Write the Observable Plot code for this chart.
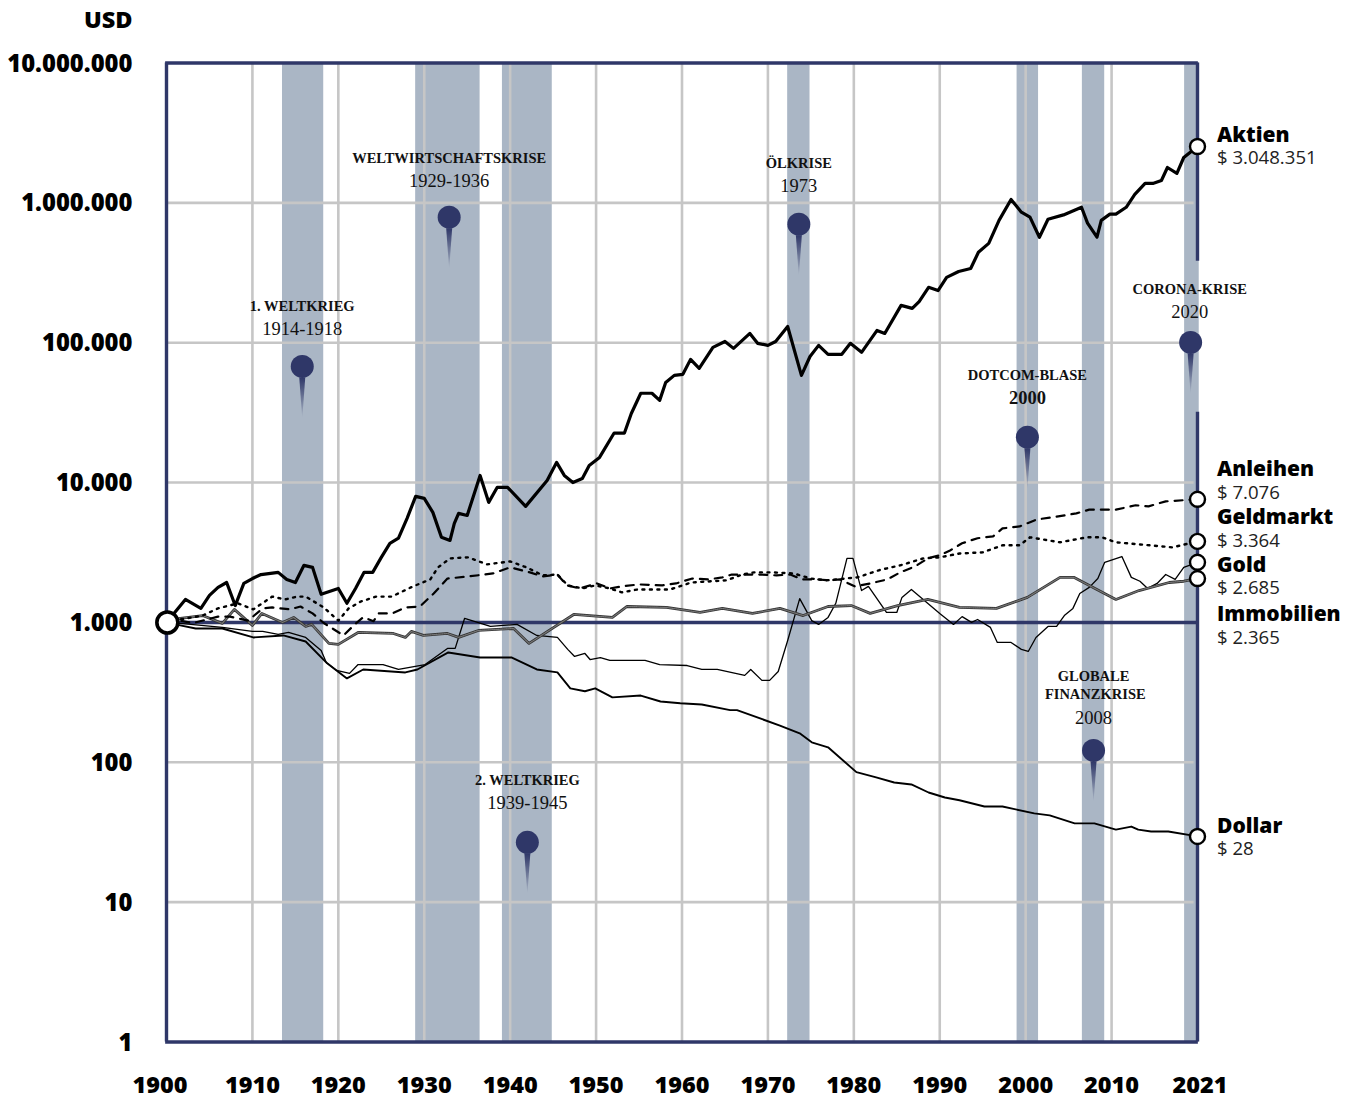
<!DOCTYPE html>
<html lang="de">
<head>
<meta charset="utf-8">
<title>Wertentwicklung 1900-2021</title>
<script src="https://cdn.jsdelivr.net/npm/d3@7"></script>
<script src="https://cdn.jsdelivr.net/npm/@observablehq/plot@0.6"></script>
<style>
  html, body { margin: 0; padding: 0; background: #fff; }
  svg { display: block; }
</style>
</head>
<body>
<div id="chart"></div>
<script>
const aktien = [[1900,1000],[1902.2,1460],[1904,1260],[1905,1560],[1906,1780],[1907,1930],[1908,1320],[1909,1900],[1910,2060],[1911,2200],[1913,2280],[1914,2030],[1915,1930],[1916,2560],[1917,2475],[1918,1590],[1920,1750],[1921,1370],[1922,1750],[1923,2280],[1924,2280],[1925,2920],[1926,3680],[1927,4000],[1928,5550],[1929,7970],[1930,7710],[1931,6120],[1932,4060],[1933,3860],[1933.5,5100],[1934,6020],[1935,5820],[1936.5,11250],[1937.5,7220],[1938.5,9250],[1939.7,9250],[1941.8,6760],[1944.3,10360],[1945.4,13940],[1946.3,11250],[1947.3,10000],[1948.4,10700],[1949.2,13250],[1950.4,15130],[1952.1,22600],[1953.3,22600],[1954.1,31200],[1955.2,43500],[1956.5,43500],[1957.4,38700],[1958.1,52000],[1959.1,58400],[1960.1,59400],[1961,76000],[1962,65500],[1963.6,92700],[1965,102100],[1966,91100],[1967.9,116500],[1968.8,99000],[1970,95700],[1970.9,102100],[1972.3,130700],[1973.9,58400],[1974.9,79700],[1975.9,95700],[1977,82600],[1978.6,82600],[1979.6,99000],[1980.9,85400],[1982.7,122500],[1983.6,116500],[1985.5,185000],[1986.8,176000],[1987.6,197000],[1988.7,249000],[1989.8,236000],[1990.8,293000],[1992.2,323000],[1993.6,339000],[1994.5,443000],[1995.7,513000],[1996.9,750000],[1998.3,1058000],[1999.5,857000],[2000.5,790000],[2001.6,568000],[2002.6,763000],[2004.4,820000],[2006.5,930000],[2007.2,717000],[2008.3,568000],[2008.8,750000],[2009.8,830000],[2010.5,830000],[2011.7,930000],[2012.7,1150000],[2013.9,1377000],[2014.8,1377000],[2015.8,1446000],[2016.5,1790000],[2017.6,1624000],[2018.4,2110000],[2020,2530000]];

const anleihen = [[1900,1000],[1901.6,1030],[1903.1,990],[1906,1100],[1907.4,1100],[1909.5,1030],[1911.2,1260],[1912.3,1280],[1914.4,1240],[1915.6,1300],[1917,1160],[1918.3,990],[1920.6,807],[1922,980],[1922.9,1090],[1924.1,1020],[1924.7,1160],[1926.3,1160],[1927.8,1280],[1929.5,1300],[1931.1,1610],[1932.7,2060],[1935.1,2130],[1938,2240],[1940,2475],[1942.3,2280],[1943.8,2130],[1945.5,2200],[1946.6,1840],[1948.1,1750],[1950.1,1900],[1951.6,1750],[1953,1810],[1955,1870],[1957.7,1840],[1959.3,1900],[1961.2,2060],[1963.1,2030],[1964.7,2100],[1965.8,2200],[1969.1,2200],[1971,2170],[1972.6,2200],[1974,2030],[1975.7,2030],[1977.2,2000],[1978.4,2030],[1980.1,1810],[1981.9,1900],[1983.9,2030],[1985.4,2280],[1987.1,2510],[1988.6,2870],[1990,3020],[1991.2,3270],[1992.6,3680],[1994.4,4000],[1996.2,4120],[1997.3,4700],[1999.3,4860],[2001.3,5450],[2003.1,5640],[2005.9,6020],[2007.4,6400],[2010.5,6400],[2012.8,6880],[2014.3,6760],[2016.3,7340],[2020,7590]];

const geldmarkt = [[1900,1000],[1901.6,1050],[1904.2,1120],[1906,1260],[1908.3,1370],[1910.1,1240],[1912.3,1530],[1913.8,1460],[1915.2,1530],[1916.2,1530],[1918.3,1280],[1920,1030],[1921.2,1260],[1922.6,1410],[1924.4,1530],[1926.2,1530],[1928.7,1810],[1930.7,2030],[1931.6,2475],[1933,2870],[1935.1,2920],[1937.3,2600],[1940,2730],[1941.9,2475],[1943.8,2170],[1945.5,2200],[1946.7,1840],[1948.4,1750],[1949.9,1840],[1951.6,1750],[1953,1640],[1954.8,1720],[1958.6,1720],[1961.1,1930],[1965.2,2000],[1967,2200],[1968.4,2280],[1970.5,2280],[1973,2240],[1975,2060],[1976.8,2000],[1980.4,2100],[1983,2370],[1985.4,2560],[1988.1,2870],[1990,2920],[1992.3,3110],[1995,3170],[1997.3,3560],[1999.3,3560],[2000.5,4060],[2004,3740],[2007.1,4060],[2008.9,4060],[2010.5,3740],[2017.1,3440],[2020,3800]];

const gold = [[1900,1000],[1901.6,984],[1906.5,921],[1910,862],[1911.2,862],[1913,820],[1914.2,848],[1916.2,781],[1918,630],[1918.6,517],[1919.8,454],[1921.3,432],[1922.3,500],[1925.2,500],[1927,461],[1930.1,500],[1932.7,652],[1933.6,652],[1934.7,1070],[1937.7,936],[1940.8,968],[1943.1,807],[1945.5,781],[1946.7,642],[1947.5,571],[1948.7,600],[1949.3,543],[1950.5,561],[1951.6,535],[1955.7,535],[1957.4,500],[1960.6,492],[1962.3,461],[1964.1,461],[1967.3,418],[1968,461],[1969.3,385],[1970.2,385],[1971.2,446],[1972.3,743],[1973.7,1480],[1975.1,1030],[1975.9,968],[1977,1086],[1977.9,1370],[1979.2,2870],[1979.9,2870],[1980.9,1690],[1981.7,1810],[1983.8,1179],[1985,1179],[1985.6,1510],[1986.7,1720],[1990,1160],[1991.6,968],[1992.6,1100],[1993.7,1000],[1994.4,1050],[1995.9,921],[1996.7,719],[1998.3,719],[1999.5,642],[2000.3,620],[2001.2,781],[2002.6,936],[2003.6,936],[2004.5,1120],[2005.5,1260],[2006.3,1610],[2007.4,1780],[2008.4,2060],[2009.2,2690],[2011.2,2960],[2012.3,2100],[2013.3,1970],[2014.2,1750],[2015.3,1900],[2016.3,2200],[2017.4,2030],[2018.4,2475],[2020,2690]];

const immobilien = [[1900,1000],[1901.6,1068],[1904.2,1120],[1906.5,984],[1907.9,1240],[1910,952],[1911.1,1160],[1913.5,1000],[1914.8,1086],[1916.2,936],[1916.9,968],[1918.9,708],[1920,697],[1922.3,848],[1926.4,834],[1927.8,781],[1928.5,862],[1929.9,807],[1932.7,834],[1934,781],[1936.3,876],[1940.4,905],[1942.2,708],[1947.4,1140],[1951.9,1086],[1953.6,1300],[1958.2,1280],[1962.1,1179],[1964.7,1260],[1968.2,1160],[1971.4,1260],[1974.1,1120],[1977,1300],[1979.7,1320],[1981.9,1160],[1985.1,1320],[1988.6,1460],[1990,1390],[1992.3,1280],[1996.6,1260],[2000.2,1510],[2004,2100],[2005.6,2100],[2010.5,1460],[2013.2,1690],[2016.7,1930],[2018.4,1970],[2020,2060]];

const dollar = [[1900,1000],[1901.6,952],[1903.4,905],[1906.5,905],[1910.1,781],[1913.6,807],[1916.2,731],[1918.7,510],[1921,398],[1922.9,461],[1927.8,439],[1929.2,461],[1932.8,610],[1936.5,561],[1940.2,561],[1943.1,461],[1945.5,439],[1947,338],[1948.7,322],[1949.9,338],[1951.9,291],[1955.2,300],[1957.5,272],[1959.8,264],[1962.3,259],[1965.6,236],[1966.4,236],[1971.4,183],[1973.7,161],[1975.1,139],[1977,128],[1980.3,85],[1982.6,78],[1984.7,71.7],[1986.7,69.4],[1988.7,60.8],[1990.6,56],[1992.3,53.5],[1995.2,48.3],[1997.3,48.3],[2001,43.1],[2002.8,41.7],[2005.7,36.6],[2008,36.6],[2010.5,33],[2012.3,34.7],[2013.1,33],[2014.6,32],[2016.6,32],[2020,29.5]];

const xGridYears = [1910,1920,1930,1940,1950,1960,1970,1980,1990,2000,2010];
const xTickYears = [1900,1910,1920,1930,1940,1950,1960,1970,1980,1990,2000,2010,2020];
const xTickLabels = ["1900","1910","1920","1930","1940","1950","1960","1970","1980","1990","2000","2010","2021"];
const yTicks = [1,10,100,1000,10000,100000,1000000,10000000];
const yGrid = [10,100,10000,100000,1000000];

const bandStart = [1913.5,1929,1939.1,1972.3,1999,2006.6,2018.5];
const bandEnd   = [1918.3,1936.5,1944.9,1974.9,2001.5,2009.2,2020.2];

const pinYear  = [1915.8,1932.9,1942,1973.6,2000.2,2007.9,2019.2];
const pinValue = [67700,790000,26.8,704000,21100,121.5,100500];

const crisisTitles = [
  ["1. WELTKRIEG",1915.8,182000],
  ["WELTWIRTSCHAFTSKRISE",1932.9,2070000],
  ["2. WELTKRIEG",1942,74.2],
  ["ÖLKRISE",1973.6,1910000],
  ["DOTCOM-BLASE",2000.2,58400],
  ["GLOBALE",2007.9,412],
  ["FINANZKRISE",2008.1,306],
  ["CORONA-KRISE",2019.1,240000]
];
const crisisDates = [
  ["1914-1918",1915.8,126500],
  ["1929-1936",1932.9,1446000],
  ["1939-1945",1942,51.7],
  ["1973",1973.6,1333000],
  ["2008",2007.9,209],
  ["2020",2019.1,167300]
];
const crisisDatesBold = [["2000",2000.2,40700]];

const endValues = [2530000,7590,3800,2690,2060,29.5];
const seriesNames = [["Aktien",3040000],["Anleihen",12430],["Geldmarkt",5640],["Gold",2560],["Immobilien",1140],["Dollar",34.8]];
const seriesAmounts = [["$ 3.048.351",2110000],["$ 7.076",8520],["$ 3.364",3860],["$ 2.685",1780],["$ 2.365",781],["$ 28",24.3]];

const navy = "#2f3768";
const gridGray = "#c6c6c6";
const bandColor = "#aab6c5";
const sans = "'Open Sans', sans-serif";
const serif = "'Liberation Serif', serif";
const fmt = d3.formatLocale({decimal: ",", thousands: ".", grouping: [3], currency: ["", ""]}).format(",d");
const yearOf = d => d[0];
const valueOf = d => d[1];

const gradientDefs = () => {
  const defs = d3.create("svg:defs");
  const g = defs.append("linearGradient").attr("id", "pinTail").attr("x1", 0).attr("y1", 0).attr("x2", 0).attr("y2", 1);
  g.append("stop").attr("offset", "0%").attr("stop-color", navy).attr("stop-opacity", 1);
  g.append("stop").attr("offset", "100%").attr("stop-color", navy).attr("stop-opacity", 0);
  return defs.node();
};
const tailSymbol = {
  draw(context) {
    context.moveTo(-3, 11);
    context.lineTo(3, 11);
    context.lineTo(0, 52);
    context.closePath();
  }
};

const chart = Plot.plot({
  width: 1357,
  height: 1099,
  marginLeft: 166,
  marginRight: 160,
  marginTop: 62.5,
  marginBottom: 57.5,
  style: {background: "#fff", fontFamily: sans},
  x: {type: "linear", domain: [1900, 2020]},
  y: {type: "log", domain: [1, 1e7]},
  marks: [
    gradientDefs,
    Plot.rectX(bandStart, {x1: d => d, x2: (d, i) => bandEnd[i], y1: 1, y2: 1e7, fill: bandColor}),
    Plot.ruleX(xGridYears, {x: d => d, stroke: gridGray, strokeWidth: 2.6}),
    Plot.ruleY(yGrid, {y: d => d, x1: 1900, x2: 2019.6, stroke: gridGray, strokeWidth: 2.6}),
    Plot.ruleY([1000], {y: d => d, stroke: navy, strokeWidth: 3.4}),
    Plot.ruleY([1, 1e7], {y: d => d, x1: 1899.9, x2: 2020.1, stroke: navy, strokeWidth: 3.4}),
    Plot.ruleX([1900], {x: d => d, stroke: navy, strokeWidth: 3.4}),
    Plot.ruleX([[1e7, 382000], [31800, 1]], {x: () => 2020, y1: d => d[0], y2: d => d[1], stroke: navy, strokeWidth: 3.4}),

    Plot.axisY({ticks: yTicks, tickFormat: fmt, tickSize: 0, tickPadding: 34, label: null, dy: 1, fontSize: 23.8, fontWeight: 800, fontFamily: sans, fill: "#000"}),
    Plot.axisX({ticks: xTickYears.slice(1, -1), tickFormat: d => xTickLabels[xTickYears.indexOf(d)], tickSize: 0, tickPadding: 34.5, label: null, fontSize: 23.5, fontWeight: 800, fontFamily: sans, fill: "#000"}),
    Plot.text([xTickLabels[0]], {x: xTickYears[0], frameAnchor: "bottom", dx: -6.5, dy: 51, fontSize: 23.5, fontWeight: 800, fontFamily: sans, fill: "#000"}),
    Plot.text([xTickLabels[12]], {x: xTickYears[12], frameAnchor: "bottom", dx: 2.5, dy: 51, fontSize: 23.5, fontWeight: 800, fontFamily: sans, fill: "#000"}),
    Plot.text(["USD"], {frameAnchor: "top-left", dx: -34, dy: -52, textAnchor: "end", fontSize: 23.5, fontWeight: 800, fontFamily: sans, fill: "#000"}),

    Plot.line(gold, {x: yearOf, y: valueOf, stroke: "#000", strokeWidth: 1.3, curve: "linear"}),
    Plot.line(immobilien, {x: yearOf, y: valueOf, stroke: "#333", strokeWidth: 2.8, curve: "linear"}),
    Plot.line(immobilien, {x: yearOf, y: valueOf, stroke: "#777", strokeWidth: 1.2, strokeDasharray: "1 1", curve: "linear"}),
    Plot.line(dollar, {x: yearOf, y: valueOf, stroke: "#000", strokeWidth: 1.9, curve: "linear"}),
    Plot.line(anleihen, {x: yearOf, y: valueOf, stroke: "#000", strokeWidth: 2.2, strokeDasharray: "8 7", curve: "linear"}),
    Plot.line(geldmarkt, {x: yearOf, y: valueOf, stroke: "#000", strokeWidth: 2.4, strokeDasharray: "2 5.5", curve: "linear"}),
    Plot.line(aktien, {x: yearOf, y: valueOf, stroke: "#000", strokeWidth: 3.2, curve: "linear"}),

    Plot.dot(pinYear, {x: d => d, y: (d, i) => pinValue[i], symbol: tailSymbol, fill: "url(#pinTail)", stroke: "none"}),
    Plot.dot(pinYear, {x: d => d, y: (d, i) => pinValue[i], r: 11.5, fill: navy, stroke: "none"}),

    Plot.text(crisisTitles, {x: d => d[1], y: d => d[2], text: d => d[0], fontFamily: serif, fontWeight: 700, fontSize: 14.5, fill: "#111", style: {letterSpacing: "0.6px"}}),
    Plot.text(crisisDates, {x: d => d[1], y: d => d[2], text: d => d[0], dy: 0.3, fontFamily: serif, fontSize: 18.5, fill: "#111", style: {letterSpacing: "0.3px"}}),
    Plot.text(crisisDatesBold, {x: d => d[1], y: d => d[2], text: d => d[0], dy: 0.3, fontFamily: serif, fontWeight: 700, fontSize: 18.5, fill: "#111"}),

    Plot.dot(endValues, {x: () => 2020, y: d => d, r: 7.5, fill: "#fff", stroke: "#000", strokeWidth: 2.4}),
    Plot.dot([1000], {x: () => 1900.1, y: d => d, r: 10.5, fill: "#fff", stroke: "#000", strokeWidth: 3.6}),

    Plot.text(seriesNames, {x: () => 2020, y: d => d[1], text: d => d[0], dx: 19.5, textAnchor: "start", fontFamily: sans, fontWeight: 800, fontSize: 21, fill: "#000"}),
    Plot.text(seriesAmounts, {x: () => 2020, y: d => d[1], text: d => d[0], dx: 19.5, dy: 1, textAnchor: "start", fontFamily: sans, fontSize: 18.6, fill: "#222"})
  ]
});
document.getElementById("chart").appendChild(chart);
</script>
</body>
</html>
